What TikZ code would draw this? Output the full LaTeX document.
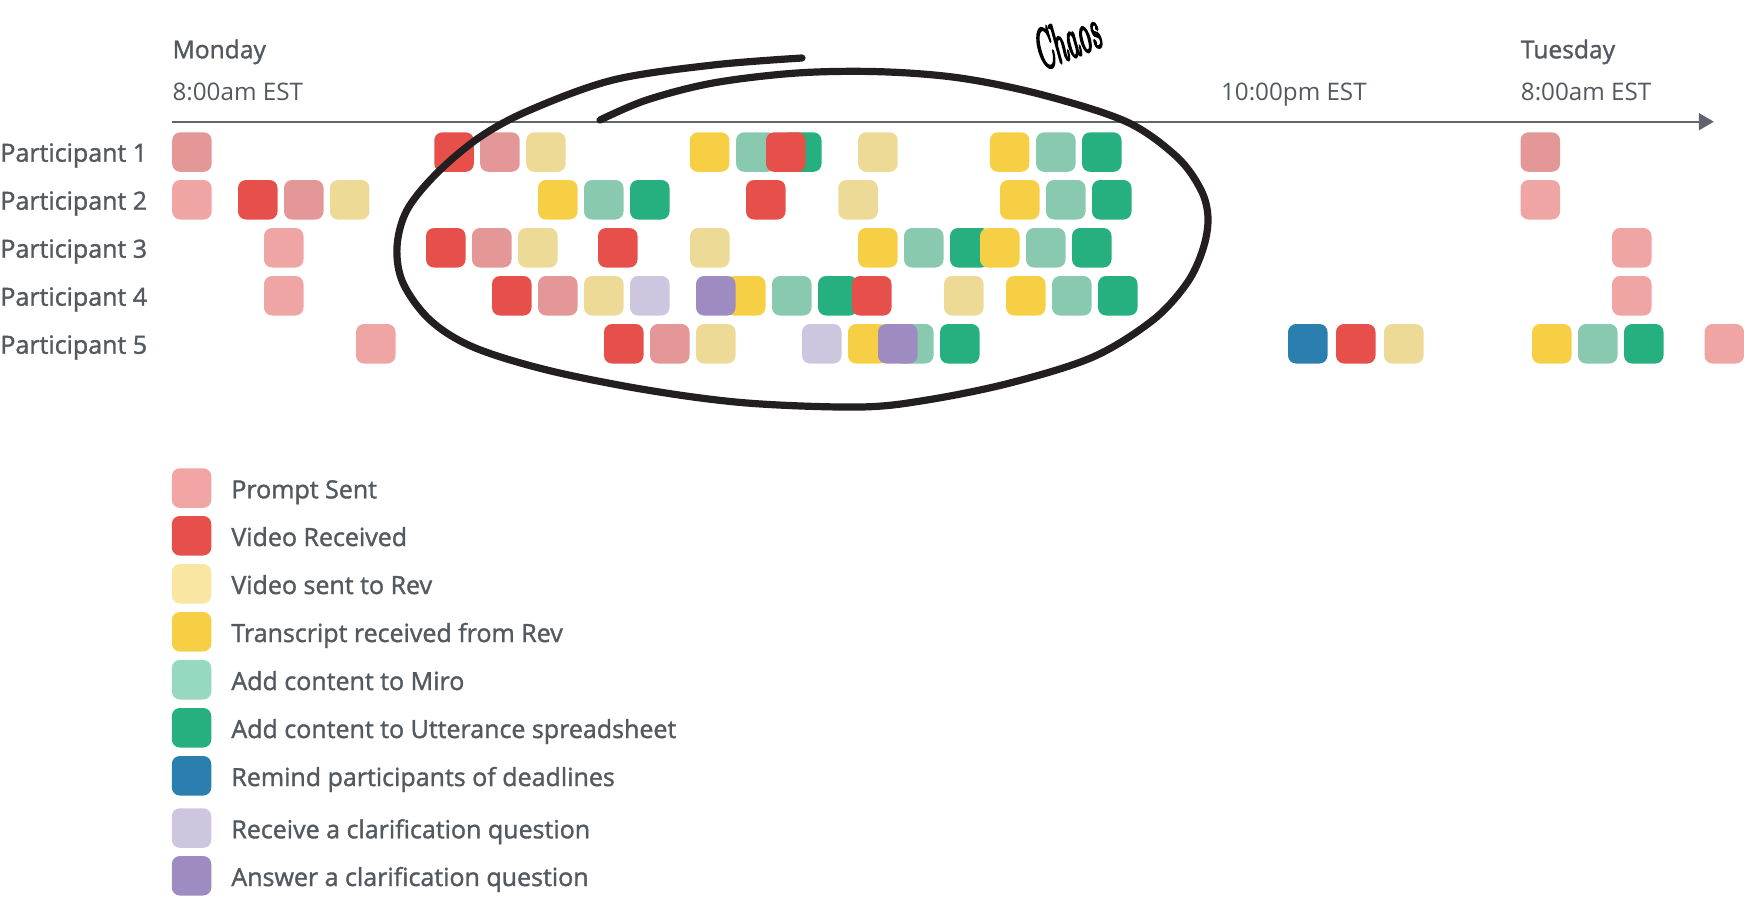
\documentclass[tikz,border=0pt]{standalone}
\usepackage{fontspec}
\setmainfont{Open Sans}
\newfontfamily\sbfont{Open Sans}[FakeBold=1.4]
\newfontfamily\chaosfont{Latin Modern Roman}[FakeBold=5]
\usetikzlibrary{arrows.meta}
\definecolor{txt}{HTML}{53595F}
\definecolor{axisc}{HTML}{5F656B}
\definecolor{pink}{HTML}{F0A5A5}
\definecolor{dusty}{HTML}{E39797}
\definecolor{red}{HTML}{E7504A}
\definecolor{beige}{HTML}{EDDA96}
\definecolor{yel}{HTML}{F7CF45}
\definecolor{teal}{HTML}{89C9B0}
\definecolor{grn}{HTML}{27B07F}
\definecolor{blu}{HTML}{2A7FAF}
\definecolor{lav}{HTML}{CEC5DF}
\definecolor{pur}{HTML}{9E8BC2}
\definecolor{lgpink}{HTML}{F1A5A5}
\definecolor{lgbeige}{HTML}{F9E6A3}
\definecolor{lgteal}{HTML}{97D8C0}
\definecolor{loopc}{HTML}{231F20}
\tikzset{
  sq/.style={minimum width=19.75pt, minimum height=19.75pt, inner sep=0pt, outer sep=0pt, rounded corners=4pt, anchor=north west},
  lbl/.style={font=\sbfont\fontsize{12.5}{14}\selectfont, text=txt, inner sep=0pt, anchor=base west},
  daylbl/.style={font=\sbfont\fontsize{12.3}{14}\selectfont, text=txt, inner sep=0pt, anchor=base west},
  tlbl/.style={font=\fontsize{12.1}{14}\selectfont, text=txt, inner sep=0pt, anchor=base west},
  axisline/.style={draw=axisc, line width=1pt, -{Triangle[length=7.5pt,width=8.5pt]}},
  loopline/.style={draw=loopc, line width=3.6pt, line cap=round, line join=round}
}
\begin{document}
\begin{tikzpicture}[x=0.5pt,y=-0.5pt]
\useasboundingbox (0,0) rectangle (1744,896);
% time axis
\coordinate (axs) at (172.2,121.7);
\coordinate (axe) at (1713.8,121.7);
\draw[axisline] (axs) -- (axe);
\node[daylbl] (mon) at (172.2,58.3) {Monday};
\node[tlbl] (t1) at (172.2,100) {8:00am EST};
\node[tlbl] (t2) at (1220.7,100) {10:00pm EST};
\node[daylbl] (tue) at (1520.5,58.3) {Tuesday};
\node[tlbl] (t3) at (1520.5,100) {8:00am EST};
% participant labels
\foreach \k in {1,...,5}{
  \node[lbl] (p\k) at (0,{161.7+48*(\k-1)}) {Participant \k};
}
% row 1
\foreach \x/\c [count=\i] in {172.2/dusty,434.3/red,480.2/dusty,526.2/beige,689.8/yel,736.1/teal,782/grn,766/red,858.2/beige,989.8/yel,1036.1/teal,1082/grn,1520.5/dusty}
  \node[sq, fill=\c] (ra\i) at (\x,132.3) {};
% row 2
\foreach \x/\c [count=\i] in {172.2/pink,238/red,284/dusty,329.9/beige,538/yel,584/teal,630/grn,746/red,838.3/beige,1000/yel,1046/teal,1092/grn,1520.5/pink}
  \node[sq, fill=\c] (rb\i) at (\x,180) {};
% row 3
\foreach \x/\c [count=\i] in {264/pink,426/red,472/dusty,518/beige,598/red,690/beige,858/yel,904/teal,950/grn,980/yel,1026/teal,1072/grn,1612/pink}
  \node[sq, fill=\c] (rc\i) at (\x,228) {};
% row 4
\foreach \x/\c [count=\i] in {264/pink,492/red,538/dusty,584/beige,630/lav,726/yel,696/pur,772/teal,818/grn,852/red,944/beige,1006/yel,1052/teal,1098/grn,1612/pink}
  \node[sq, fill=\c] (rd\i) at (\x,276) {};
% row 5
\foreach \x/\c [count=\i] in {356/pink,604/red,650/dusty,696/beige,802/lav,848/yel,894/teal,878/pur,940/grn,1288/blu,1336/red,1384/beige,1532/yel,1578/teal,1624/grn,1704.5/pink}
  \node[sq, fill=\c] (re\i) at (\x,324) {};
% chaos loop
\draw[loopline] plot[smooth, tension=0.55] coordinates {(600,120) (646.7,100) (713,83) (797,73) (880,71.7) (960,78) (1043,95) (1127,122) (1177,157) (1201,190) (1208,218) (1203,249) (1187,283) (1153,320) (1093,357) (1010,383) (927,400) (860,407) (747,403) (647,390) (547,370) (473,347) (430,320) (403,283) (397,247) (407,210) (437,173) (480,137) (530,110) (613,80) (713,65) (802,58)};
\node[rotate=22, xscale=0.46, font=\chaosfont\itshape\fontsize{28}{30}\selectfont, inner sep=0pt] (chaos) at (1066,40) {Chaos};
% legend
\foreach \t/\c/\s [count=\i] in {468.3/lgpink/Prompt Sent, 516/red/Video Received, 564/lgbeige/Video sent to Rev, 612/yel/Transcript received from Rev, 660/lgteal/Add content to Miro, 708/grn/Add content to Utterance spreadsheet, 756/blu/Remind participants of deadlines, 808.3/lav/Receive a clarification question, 856/pur/Answer a clarification question}{
  \node[sq, fill=\c] (lg\i) at (171.8,\t) {};
  \node[lbl] (lt\i) at (231,{\t+30}) {\s};
}
\end{tikzpicture}
\end{document}
